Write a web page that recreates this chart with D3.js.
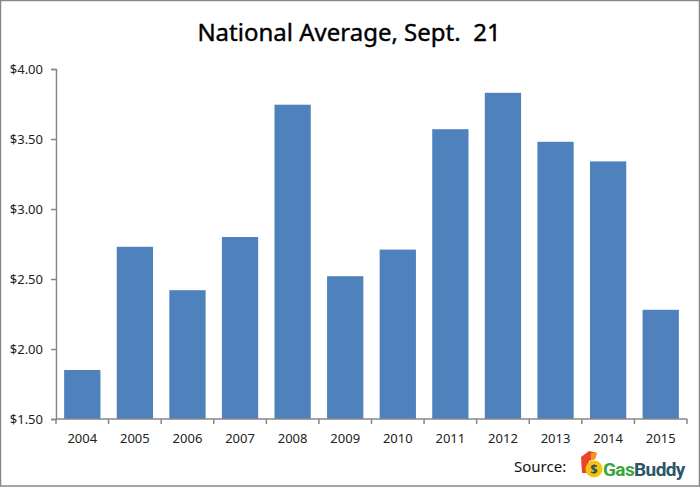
<!DOCTYPE html>
<html>
<head>
<meta charset="utf-8">
<script src="https://cdn.jsdelivr.net/npm/d3@7"></script>
<style>
  body { margin: 0; background: #fff; }
  svg { display: block; font-family: 'Noto Sans', 'DejaVu Sans', sans-serif; }
</style>
</head>
<body>
<div id="chart-area"></div>
<script>
// DATA
const years = ['2004', '2005', '2006', '2007', '2008', '2009',
               '2010', '2011', '2012', '2013', '2014', '2015']
const prices = [1.85, 2.73, 2.42, 2.80, 3.745, 2.52,
                2.71, 3.57, 3.83, 3.48, 3.34, 2.28]
const yTicks = [1.5, 2.0, 2.5, 3.0, 3.5, 4.0]

const W = 700
const H = 487
const margin = { top: 69, right: 13, bottom: 68, left: 56 }
const width = W - margin.left - margin.right
const height = H - margin.top - margin.bottom

const svg = d3.select('#chart-area')
              .append('svg')
              .attr('width', W)
              .attr('height', H)

// outer frame
svg.append('rect')
   .attr('x', 0.5).attr('y', 0.5)
   .attr('width', W - 1).attr('height', H - 1.5)
   .attr('fill', 'none')
   .attr('stroke', '#878787')
   .attr('stroke-width', 1.5)

svg.append('text')
   .attr('x', 349)
   .attr('y', 41)
   .attr('text-anchor', 'middle')
   .attr('font-size', '24px')
   .attr('fill', '#000')
   .attr('stroke', '#000')
   .attr('stroke-width', 0.4)
   .style('white-space', 'pre')
   .text('National Average, Sept.  21')

const g = svg.append('g')
             .attr('transform', 'translate(' + margin.left + ',' + margin.top + ')')

const x = d3.scaleBand()
            .domain(years)
            .range([0, width])
            .paddingInner(0.31)
            .paddingOuter(0.155)

const y = d3.scaleLinear()
            .domain([1.5, 4.0])
            .range([height, 0])

// BARS
g.selectAll('rect.bar')
 .data(years)
 .enter()
 .append('rect')
 .attr('class', 'bar')
 .attr('x', d => x(d))
 .attr('y', (d, i) => y(prices[i]))
 .attr('width', x.bandwidth())
 .attr('height', (d, i) => height - y(prices[i]))
 .attr('fill', '#4f81bd')

// Y AXIS
const yAxisCall = d3.axisLeft(y)
                    .tickValues(yTicks)
                    .tickFormat(d => '$' + d3.format('.2f')(d))
                    .tickSize(5)
                    .tickPadding(8)

const yAxis = g.append('g').attr('class', 'y-axis').call(yAxisCall)
yAxis.select('.domain').attr('stroke', '#878787').attr('stroke-width', 1.5)
yAxis.selectAll('.tick line').attr('stroke', '#878787').attr('stroke-width', 1.5)
yAxis.selectAll('.tick text')
     .attr('font-size', '13px')
     .attr('fill', '#222')
     .attr('font-family', "'Noto Sans', sans-serif")

// X AXIS (ticks between categories)
const xAxisG = g.append('g')
                .attr('class', 'x-axis')
                .attr('transform', 'translate(0,' + height + ')')

xAxisG.append('line')
      .attr('x1', 0).attr('x2', width)
      .attr('stroke', '#878787').attr('stroke-width', 1.5)

const bounds = d3.range(years.length + 1).map(i => i * width / years.length)
xAxisG.selectAll('line.tk')
      .data(bounds)
      .enter()
      .append('line')
      .attr('class', 'tk')
      .attr('x1', d => d).attr('x2', d => d)
      .attr('y1', 0).attr('y2', 5)
      .attr('stroke', '#878787').attr('stroke-width', 1.5)

xAxisG.selectAll('text')
      .data(years)
      .enter()
      .append('text')
      .attr('x', d => x(d) + x.bandwidth() / 2)
      .attr('y', 24)
      .attr('text-anchor', 'middle')
      .attr('font-size', '13px')
      .attr('fill', '#222')
      .text(d => d)

// SOURCE
svg.append('text')
   .attr('x', 514)
   .attr('y', 472)
   .attr('font-size', '15px')
   .attr('fill', '#111')
   .text('Source:')

const logo = svg.append('g').attr('transform', 'translate(579,451)')
logo.append('path')
    .attr('d', 'M2,6 L10,0 L18,2 L16,8 L10,10 L8,22 L3,22 Z')
    .attr('fill', '#e8462a')
logo.append('path')
    .attr('d', 'M12,2 L18,2 L16,8 L12,9 Z')
    .attr('fill', '#f7941d')
logo.append('circle')
    .attr('cx', 15).attr('cy', 18).attr('r', 8.5)
    .attr('fill', '#f6c40f')
logo.append('text')
    .attr('x', 15).attr('y', 23)
    .attr('text-anchor', 'middle')
    .attr('font-size', '13px')
    .attr('font-weight', 'bold')
    .attr('fill', '#2b4c5e')
    .text('$')
const logoText = logo.append('text')
    .attr('x', 24).attr('y', 25)
    .attr('font-size', '19px')
    .attr('font-weight', 'bold')
    .attr('font-family', "'Liberation Sans Narrow', 'Roboto', sans-serif")
    .attr('letter-spacing', '-0.6px')
logoText.append('tspan').attr('fill', '#3aa53a').text('Gas')
logoText.append('tspan').attr('fill', '#2c5566').text('Buddy')
</script>
</body>
</html>
